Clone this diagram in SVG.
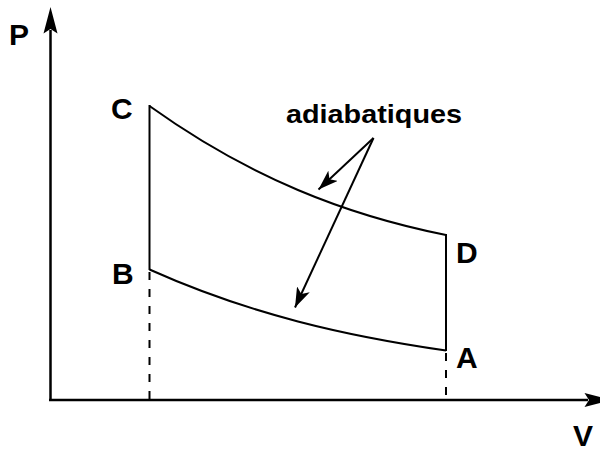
<svg xmlns="http://www.w3.org/2000/svg" width="600" height="454" viewBox="0 0 600 454">
<style>
.axis{stroke:#000;stroke-width:2.5;fill:none}
.curve{stroke:#000;stroke-width:2;fill:none}
.dash{stroke:#000;stroke-width:2;fill:none;stroke-dasharray:8 9}
.lab{font-family:"Liberation Sans",Arial,sans-serif;font-weight:bold;font-size:30px;fill:#000}
.note{font-family:"Liberation Sans",Arial,sans-serif;font-weight:bold;font-size:26px;fill:#000}
.ptr{stroke:#000;stroke-width:2;fill:none}
</style>
<defs>
<marker id="ah" viewBox="0 0 20 14" refX="20" refY="7" markerWidth="20" markerHeight="14" markerUnits="userSpaceOnUse" orient="auto">
<path d="M0,0 L20,7 L0,14 L5,7 Z" fill="#000"/>
</marker>
</defs>
<rect width="600" height="454" fill="#fff"/>
<g id="axes">
<line class="axis" x1="50.5" y1="401" x2="50.5" y2="30"/>
<path d="M50.5,7 L57.5,33.5 L50.5,29 L43.5,33.5 Z" fill="#000"/>
<line class="axis" x1="49" y1="400" x2="588" y2="400"/>
<path d="M611,400 L584.5,407 L589,400 L584.5,393 Z" fill="#000"/>
<text class="lab" x="9" y="45">P</text>
<text class="lab" x="573" y="446">V</text>
</g>
<g id="cycle">
<path class="curve" d="M149.5,106 C250,178 346,215 446,235"/>
<path class="curve" d="M149.5,269.5 C250,314.5 346,336 446,350.5"/>
<line class="curve" x1="149.5" y1="105" x2="149.5" y2="270"/>
<line class="curve" x1="446" y1="234" x2="446" y2="351"/>
</g>
<g id="guides">
<line class="dash" x1="149.5" y1="272" x2="149.5" y2="399"/>
<line class="dash" x1="446" y1="353" x2="446" y2="399"/>
</g>
<g id="C"><text class="lab" x="111" y="119">C</text></g>
<g id="B"><text class="lab" x="112" y="284">B</text></g>
<g id="D"><text class="lab" x="456" y="263">D</text></g>
<g id="A"><text class="lab" x="456" y="368">A</text></g>
<g id="label"><text class="note" x="286" y="123" textLength="176" lengthAdjust="spacingAndGlyphs">adiabatiques</text></g>
<g id="connectors">
<line class="ptr" x1="373.5" y1="138" x2="318.5" y2="189.5" marker-end="url(#ah)"/>
<line class="ptr" x1="373.5" y1="138" x2="295" y2="307.5" marker-end="url(#ah)"/>
</g>
</svg>
